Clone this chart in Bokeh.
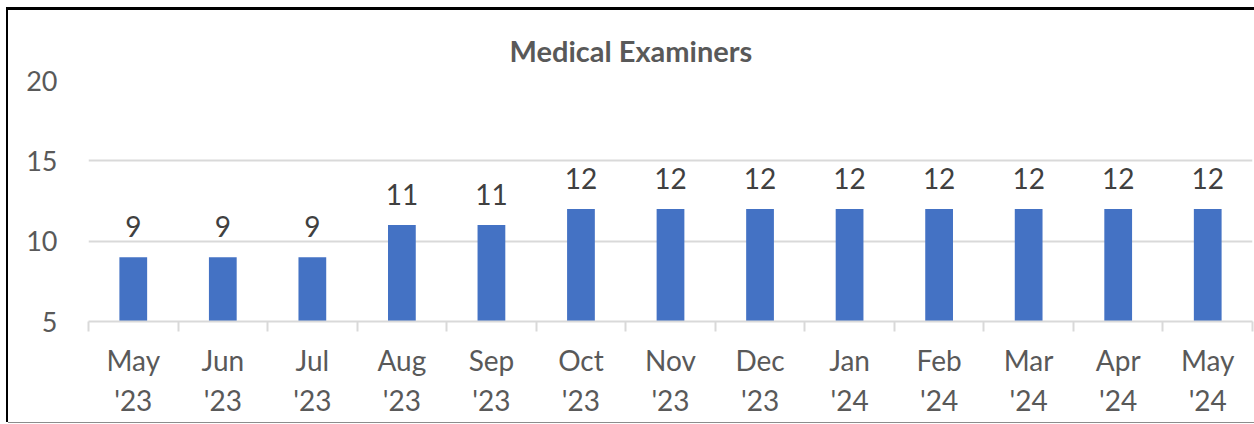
from bokeh.plotting import figure
from bokeh.models import Range1d, FixedTicker, ColumnDataSource
from bokeh.core.properties import value
from bokeh.embed import file_html
from bokeh.resources import INLINE

months = ["May\n'23", "Jun\n'23", "Jul\n'23", "Aug\n'23", "Sep\n'23", "Oct\n'23", "Nov\n'23",
          "Dec\n'23", "Jan\n'24", "Feb\n'24", "Mar\n'24", "Apr\n'24", "May\n'24"]
counts = [9, 9, 9, 11, 11, 12, 12, 12, 12, 12, 12, 12, 12]
y_ticks = [5, 10, 15, 20]
title = "Medical Examiners"

FONT = "Lato"
GRID = "#D9D9D9"
TXT = "#595959"

xs = list(range(len(months)))
src = ColumnDataSource(dict(x=xs, top=counts, label=[str(c) for c in counts]))

p = figure(width=1246, height=412, output_backend="svg", toolbar_location=None,
           x_range=Range1d(-0.5, len(months) - 0.5), y_range=Range1d(y_ticks[0], y_ticks[-1]),
           min_border_left=80, min_border_right=2, min_border_top=70, min_border_bottom=101)
p.styles = {"margin-left": "8px", "margin-top": "10px",
            "box-shadow": "-2px 0 0 0 #000000, 0 -3px 0 0 #000000, -2px -3px 0 0 #000000, 0 1px 0 0 #8c8c8c"}
p.outline_line_color = None
p.background_fill_color = "white"
p.border_fill_color = "white"

p.title.text = title
p.title.align = "left"
p.title.offset = 421
p.title.text_font = FONT
p.title.text_font_size = "29px"
p.title.text_font_style = "bold"
p.title.text_color = TXT
p.title.standoff = 25

p.vbar(x="x", top="top", bottom=y_ticks[0], width=0.31, source=src,
       fill_color="#4472C4", line_color=None)
p.text(x="x", y="top", text="label", source=src, text_font=value(FONT),
       text_font_size="28px", text_color="#404040", text_align="center",
       text_baseline="alphabetic", y_offset=-31)

# y axis
p.yaxis.ticker = FixedTicker(ticks=y_ticks)
p.yaxis.axis_line_color = None
p.yaxis.major_tick_line_color = None
p.yaxis.minor_tick_line_color = None
p.yaxis.major_label_text_font = FONT
p.yaxis.major_label_text_font_size = "27px"
p.yaxis.major_label_text_color = TXT
p.yaxis.major_label_standoff = 25

# x axis
p.xaxis.ticker = FixedTicker(ticks=xs, minor_ticks=[i - 0.5 for i in range(len(months) + 1)])
p.xaxis.major_label_overrides = {i: m for i, m in enumerate(months)}
p.xaxis.axis_line_color = GRID
p.xaxis.axis_line_width = 2
p.xaxis.major_tick_line_color = None
p.xaxis.major_tick_out = 0
p.xaxis.major_tick_in = 0
p.xaxis.minor_tick_line_color = GRID
p.xaxis.minor_tick_line_width = 2
p.xaxis.minor_tick_out = 10
p.xaxis.minor_tick_in = 0
p.xaxis.major_label_text_font = FONT
p.xaxis.major_label_text_font_size = "28px"
p.xaxis.major_label_text_color = TXT
p.xaxis.major_label_standoff = 11

p.xgrid.grid_line_color = None
p.ygrid.ticker = FixedTicker(ticks=y_ticks)
p.ygrid.grid_line_color = GRID
p.ygrid.grid_line_width = 2

open("out.html", "w").write(file_html(p, INLINE))
